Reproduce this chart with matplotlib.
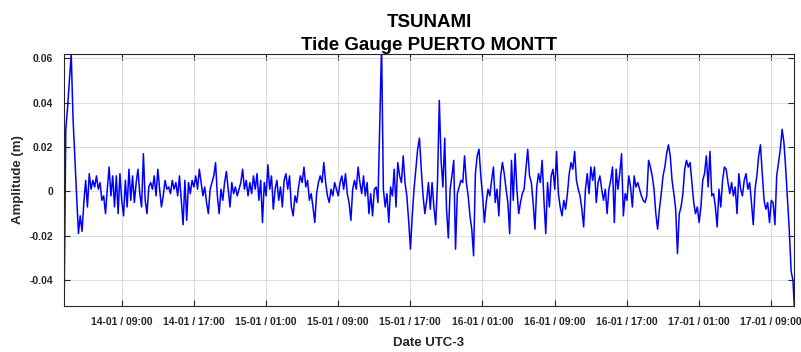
import numpy as np
import pandas as pd
import matplotlib
matplotlib.use("Agg")
import matplotlib.pyplot as plt

# ---- data (amplitude in millimetres, 12-minute samples) ----
start_time = "2015-01-14 02:37"
step = "12min"

seg_14a = [-56, 28, 38, 50, 62, 33, 15, -2, -19, -11, -18, -5, 5, -7, 8, 1, 5, 2, 7, 1,
           4, -4, -2, -10, 1, 11, -2, 7, -7, 7, -10, 8, -4, -11, 5, -7, 10, -4, 7, -5,
           4, 10, -1, -7, 17, -4, -10, 2, 4, 1, 7, -2, 10, 1, -7, -2, 5, 1]
seg_14b = [2, -1, 5, 1, 4, -2, 7, -4, -15, 5, -13, 4, -1, 5, 2, 7, 1, 10, 4, -2,
           2, -5, -10, 1, 4, 7, 13, -2, -10, 1, -4, 4, 9, 1, -7, 4, -1, 2, -2, 1,
           4, 10, 1, 5, -2, 4, -1, 7, 1, 8, -4, 5, -14, 4, -2, 12, 1]
seg_15a = [7, -8, 1, 5, -4, 2, -7, 5, 8, 1, 7, -7, -11, -2, -5, 2, 7, 4, 11, 2,
           5, -4, -1, -7, -14, -1, 4, 7, 4, 13, 4, -2, -5, 1, -2, 4, 1, -2, 4, 7,
           1, 8, -1, -5, -13, 1, 5, 1, 11, 4, -1, 7, -2, 4, -10, -1, -11, 1]
seg_15b = [2, -5, 30, 66, 1, -7, -1, -14, 2, -2, 10, -7, 13, 7, 4, 16, 4, -2, -13, -26,
           -11, 1, 10, 19, 24, 10, -2, -10, -4, 4, -8, 4, -7, -15, 4, 41, 14, 2, 24, -8,
           -21, 1, 7, 14, -26, -1, 2, 5, 4, 16, 4, -2, -11, -17, -29, 8, 16, 19]
seg_16a = [7, -2, -14, -5, 1, -2, 5, 11, -5, 1, -11, 7, 13, 8, 1, -5, -19, 14, -4, 17,
           1, -10, -5, -1, 1, 10, 19, 7, 4, -5, -17, 2, 8, 4, 14, -4, -19, 4, -7, 7,
           10, 1, 18, -1, -7, -11, -4, -8, -1, 8, 13, 10, 18, 5, 1, -2, -8, -16]
seg_16b = [1, 8, -1, 11, 5, 11, -5, 4, 7, 1, -4, 1, -10, 1, 5, 11, -14, 10, 1, 8,
           17, -11, -1, -4, 7, 2, -7, 7, 2, 4, 1, -2, -4, -5, -2, 14, 11, 7, 1, -10,
           -17, -8, -1, 7, 11, 17, 21, 16, 5, -1, -8, -28, -10, -7, -1, 10, 14, 11]
seg_17 = [13, 4, -5, -10, -7, -14, -7, 5, 8, 16, 2, 18, -2, -1, -7, -16, 1, -7, 5, 11,
          10, 4, -1, 4, -2, 2, -10, 8, 1, -2, 5, 8, 1, 4, -5, -15, 1, 7, 16, 21,
          8, -4, -8, -5, -14, -4, -5, -15, 7, 13, 19, 28, 22, 10, -4, -18, -36, -40, -56]

amp_mm = seg_14a + seg_14b + seg_15a + seg_15b + seg_16a + seg_16b + seg_17

tick_times = ["2015-01-14 09:00", "2015-01-14 17:00", "2015-01-15 01:00",
              "2015-01-15 09:00", "2015-01-15 17:00", "2015-01-16 01:00",
              "2015-01-16 09:00", "2015-01-16 17:00", "2015-01-17 01:00",
              "2015-01-17 09:00"]
tick_labels = ["14-01 / 09:00", "14-01 / 17:00", "15-01 / 01:00", "15-01 / 09:00",
               "15-01 / 17:00", "16-01 / 01:00", "16-01 / 09:00", "16-01 / 17:00",
               "17-01 / 01:00", "17-01 / 09:00"]
y_ticks = [-0.04, -0.02, 0, 0.02, 0.04, 0.06]
y_tick_labels = ["-0.04", "-0.02", "0", "0.02", "0.04", "0.06"]

times = pd.date_range(start_time, periods=len(amp_mm), freq=step)
amp = np.array(amp_mm) / 1000.0

fam = ["Liberation Sans Narrow", "Liberation Sans", "DejaVu Sans"]
plt.rcParams["font.family"] = fam

fig = plt.figure(figsize=(8.01, 3.52), dpi=100)
ax = fig.add_axes([64 / 801, 46 / 352, 730 / 801, 252 / 352])
ax.plot(times, amp, color="#0000ff", lw=1.1)

ax.set_xlim(pd.Timestamp("2015-01-14 02:37"), pd.Timestamp("2015-01-17 11:32"))
ax.set_ylim(-0.0516, 0.0619)
ax.set_xticks(pd.to_datetime(tick_times))
ax.set_xticklabels(tick_labels)
ax.set_yticks(y_ticks)
ax.set_yticklabels(y_tick_labels)

ax.grid(True, color="#dddddd", lw=0.8)
ax.set_axisbelow(True)
ax.tick_params(direction="in", top=True, right=True, length=4, width=0.8,
               color="#262626", labelsize=7.5, labelcolor="#262626", pad=8)
for lab in ax.get_xticklabels() + ax.get_yticklabels():
    lab.set_fontweight("bold")
for s in ax.spines.values():
    s.set_color("#262626")
    s.set_linewidth(0.8)

ax.set_ylabel("Amplitude (m)", fontsize=9.5, fontweight="bold", color="#262626")
ax.yaxis.set_label_coords(-0.055, 0.5)
ax.set_xlabel("Date UTC-3", fontsize=9.5, fontweight="bold", color="#262626", labelpad=7)
ax.set_title("TSUNAMI\nTide Gauge PUERTO MONTT", fontsize=13.5, fontweight="bold",
             color="black", linespacing=1.45, pad=3)

fig.savefig("out.png", dpi=100)
